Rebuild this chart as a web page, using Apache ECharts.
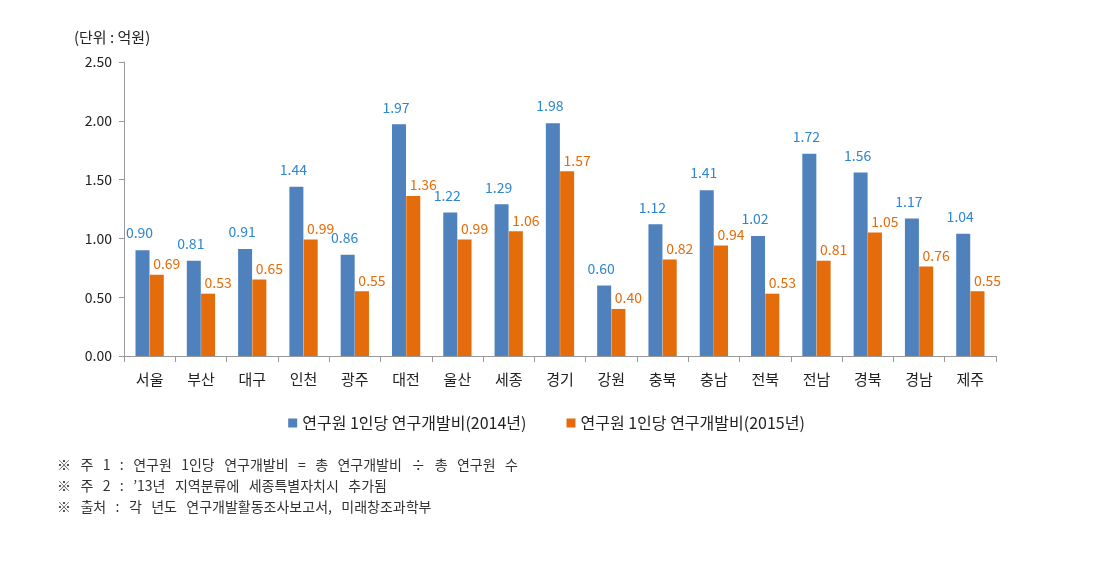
<!DOCTYPE html>
<html>
<head>
<meta charset="utf-8">
<script src="https://cdn.jsdelivr.net/npm/echarts@6/dist/echarts.min.js"></script>
<style>html,body{margin:0;padding:0;background:#fff}#c{width:1093px;height:566px}</style>
</head>
<body>
<div id="c"></div>
<script>
const categories = ['서울','부산','대구','인천','광주','대전','울산','세종','경기','강원','충북','충남','전북','전남','경북','경남','제주'];
const values2014 = [0.90,0.81,0.91,1.44,0.86,1.97,1.22,1.29,1.98,0.60,1.12,1.41,1.02,1.72,1.56,1.17,1.04];
const values2015 = [0.69,0.53,0.65,0.99,0.55,1.36,0.99,1.06,1.57,0.40,0.82,0.94,0.53,0.81,1.05,0.76,0.55];
const seriesNames = ['연구원 1인당 연구개발비(2014년)','연구원 1인당 연구개발비(2015년)'];
const unitText = '(단위 : 억원)';
const notes = [
  '※   주   1   :   연구원   1인당   연구개발비   =   총   연구개발비   ÷   총   연구원   수',
  '※   주   2   :   \u201913년   지역분류에   세종특별자치시   추가됨',
  '※   출처   :   각   년도   연구개발활동조사보고서,   미래창조과학부'
];
const FONT = '"Noto Sans CJK KR", "Noto Sans", sans-serif';
const chart = echarts.init(document.getElementById('c'));
chart.setOption({
  animation: false,
  textStyle: { fontFamily: FONT },
  grid: { left: 124, right: 97, top: 62, bottom: 210, containLabel: false },
  legend: {
    top: 410, left: 'center',
    itemWidth: 9, itemHeight: 9, itemGap: 40,
    icon: 'rect',
    textStyle: { fontSize: 16, color: '#222', fontFamily: FONT },
    data: seriesNames
  },
  xAxis: {
    type: 'category', data: categories,
    axisLine: { lineStyle: { color: '#999' } },
    axisTick: { show: true, length: 6, lineStyle: { color: '#999' } },
    axisLabel: { fontSize: 15, color: '#222', margin: 16 }
  },
  yAxis: {
    type: 'value', min: 0, max: 2.5, interval: 0.5,
    axisLine: { show: true, lineStyle: { color: '#999' } },
    axisTick: { show: true, inside: false, length: 5, lineStyle: { color: '#999' } },
    splitLine: { show: false },
    axisLabel: { fontSize: 14, color: '#222', margin: 12, formatter: v => v.toFixed(2) }
  },
  series: [
    {
      name: seriesNames[0], type: 'bar', data: values2014,
      barWidth: 14, barGap: '2%',
      itemStyle: { color: '#4f81bd' },
      label: { show: true, position: 'top', distance: 10, offset: [-3, 0], color: '#2e86d0', fontSize: 14, formatter: p => p.value.toFixed(2) }
    },
    {
      name: seriesNames[1], type: 'bar', data: values2015,
      barWidth: 14,
      itemStyle: { color: '#e46c0a' },
      label: { show: true, position: 'top', distance: 4, offset: [10, 0], color: '#e46c0a', fontSize: 14, formatter: p => p.value.toFixed(2) }
    }
  ],
  graphic: [
    { type: 'text', left: 74, top: 30, style: { text: unitText, fontSize: 15, fill: '#222', fontFamily: FONT } },
    { type: 'text', left: 57, top: 458, style: { text: notes[0], fontSize: 14, fill: '#333', fontFamily: FONT } },
    { type: 'text', left: 57, top: 479, style: { text: notes[1], fontSize: 14, fill: '#333', fontFamily: FONT } },
    { type: 'text', left: 57, top: 500, style: { text: notes[2], fontSize: 14, fill: '#333', fontFamily: FONT } }
  ]
});
</script>
</body>
</html>
